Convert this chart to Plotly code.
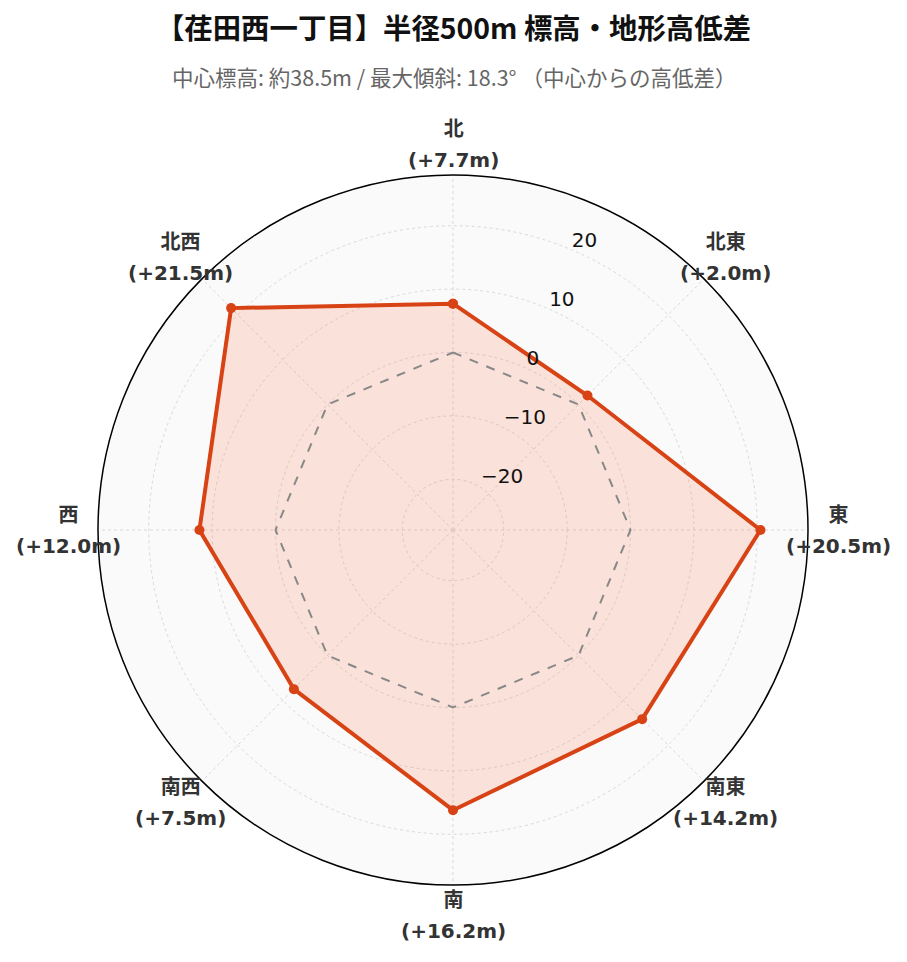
import math
import plotly.graph_objects as go

directions = ["北", "北東", "東", "南東", "南", "南西", "西", "北西"]
diffs = [7.7, 2.0, 20.5, 14.2, 16.2, 7.5, 12.0, 21.5]
reference = [0, 0, 0, 0, 0, 0, 0, 0]
radial_ticks = [-20, -10, 0, 10, 20]
radial_range = [-28, 28]

W, H = 907, 962
OFF = 8                      # page offset of the figure in the browser
cx, cy, R = 453 - OFF, 530 - OFF, 355
LABEL_GAP = 30               # px between outer circle and direction label centre

theta_closed = directions + [directions[0]]

fig = go.Figure()
fig.add_trace(go.Scatterpolar(
    r=diffs + [diffs[0]], theta=theta_closed, mode="lines+markers",
    fill="toself", fillcolor="rgba(255,87,34,0.15)",
    line=dict(color="#d84315", width=4), marker=dict(size=10, color="#d84315"),
    showlegend=False))
fig.add_trace(go.Scatterpolar(
    r=reference + [reference[0]], theta=theta_closed, mode="lines",
    line=dict(color="#888888", width=2, dash="dash"), hoverinfo="skip",
    showlegend=False))

# direction labels placed around the outer circle (polar geometry of the domain)
annotations = []
n = len(directions)
for i, (d, v) in enumerate(zip(directions, diffs)):
    ang = math.radians(i * 360 / n)
    px = cx + (R + LABEL_GAP) * math.sin(ang)
    py = cy - (R + LABEL_GAP) * math.cos(ang)
    annotations.append(dict(
        text=(f"<span style='font-size:20px'><b>{d}</b></span><br>"
              f"<span style='font-size:20px'><b>(+{v:.1f}m)</b></span>"),
        xref="paper", yref="paper", x=px / W, y=1 - py / H,
        xanchor="center", yanchor="middle", align="center", showarrow=False,
        font=dict(family="DejaVu Sans, Noto Sans CJK JP, sans-serif", size=23.5, color="#333333")))

annotations.append(dict(
    text="中心標高: 約38.5m / 最大傾斜: 18.3° （中心からの高低差）",
    xref="paper", yref="paper", x=(453.5 - OFF) / W, y=1 - (77 - OFF) / H,
    xanchor="center", yanchor="middle", showarrow=False,
    font=dict(family="Noto Sans CJK JP, sans-serif", size=21.5, color="#666666")))

fig.update_layout(
    width=W, height=H,
    margin=dict(l=0, r=0, t=0, b=0),
    paper_bgcolor="white",
    font=dict(family="DejaVu Sans, Noto Sans CJK JP, sans-serif", color="#333333"),
    title=dict(text="<b>【荏田西一丁目】半径500m 標高・地形高低差</b>",
               x=(453.5 - OFF) / W, xanchor="center", y=1 - (29 - OFF) / H, yanchor="middle",
               yref="container",
               font=dict(family="Noto Sans CJK JP, sans-serif", size=28.4, color="#111111")),
    annotations=annotations,
    polar=dict(
        domain=dict(x=[(cx - R) / W, (cx + R) / W], y=[(H - cy - R) / H, (H - cy + R) / H]),
        bgcolor="#fafafa",
        angularaxis=dict(direction="clockwise", rotation=90,
                         tickmode="array", tickvals=directions, showticklabels=False,
                         showline=True, linecolor="black", linewidth=1.5,
                         gridcolor="#d9d9d9", griddash="dot", ticks=""),
        radialaxis=dict(range=radial_range, angle=69, tickangle=69,
                        tickvals=radial_ticks,
                        ticktext=[str(t).replace("-", "−") + "<br> " for t in radial_ticks],
                        tickfont=dict(family="DejaVu Sans", size=20, color="#111111"),
                        showline=False, ticks="",
                        gridcolor="#d9d9d9", griddash="dot"),
    ),
)
fig.write_html("out.html")
